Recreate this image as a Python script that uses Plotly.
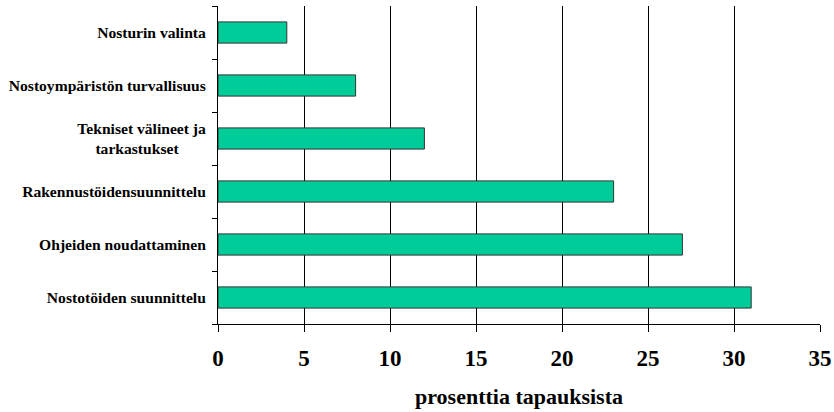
import plotly.graph_objects as go

categories = [
    "Nostotöiden suunnittelu",
    "Ohjeiden noudattaminen",
    "Rakennustöidensuunnittelu",
    "Tekniset välineet ja<br>tarkastukset" + "\u00a0" * 7,
    "Nostoympäristön turvallisuus",
    "Nosturin valinta",
]
values = [31, 27, 23, 12, 8, 4]
x_ticks = [0, 5, 10, 15, 20, 25, 30, 35]

font_family = "Liberation Serif"

fig = go.Figure(
    go.Bar(
        y=categories,
        x=values,
        orientation="h",
        marker=dict(color="#00CC99", line=dict(color="#333333", width=1)),
        width=0.4,
    )
)

fig.update_layout(
    width=834,
    height=412,
    margin=dict(l=218, r=14, t=6, b=88),
    paper_bgcolor="white",
    plot_bgcolor="white",
    showlegend=False,
    font=dict(family=font_family, color="black"),
)

fig.update_xaxes(
    range=[0, 35],
    tickvals=x_ticks,
    ticktext=[f"<b>{v}</b>" for v in x_ticks],
    tickfont=dict(size=23, family=font_family),
    showgrid=True,
    gridcolor="black",
    gridwidth=1,
    showline=True,
    linecolor="black",
    linewidth=1,
    ticks="outside",
    ticklen=7,
    tickcolor="black",
    ticklabelstandoff=6,
    zeroline=False,
    automargin=False,
    title=dict(text="<b>prosenttia tapauksista</b>", font=dict(size=22, family=font_family), standoff=19),
)

fig.update_yaxes(
    categoryorder="array",
    categoryarray=categories,
    tickvals=categories,
    ticktext=[f"<b>{c}</b>" for c in categories],
    tickfont=dict(size=15.6, family=font_family),
    showline=True,
    linecolor="black",
    linewidth=1,
    ticks="outside",
    tickson="boundaries",
    ticklen=5,
    tickcolor="black",
    ticklabelstandoff=8,
    showgrid=False,
    automargin=False,
    range=[-0.5, 5.5],
)

fig.write_html("out.html")
